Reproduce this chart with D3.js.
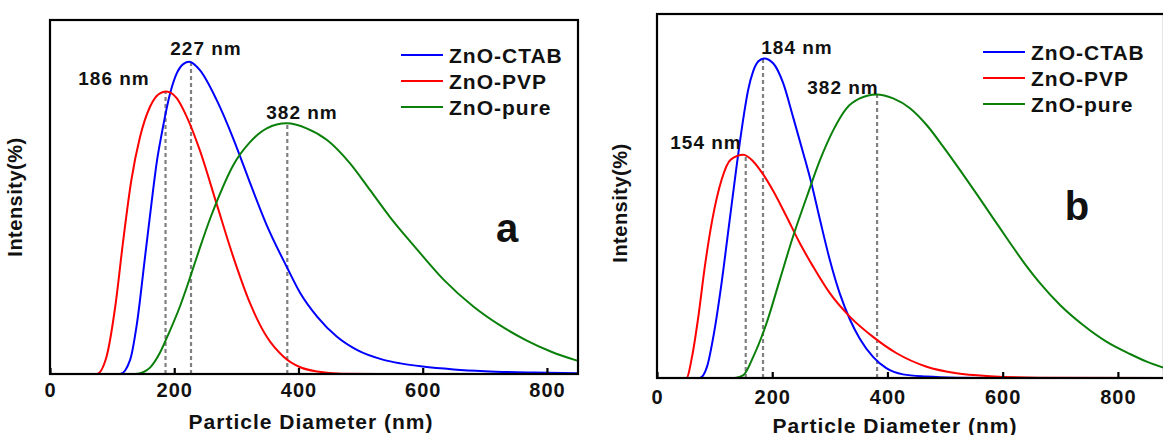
<!DOCTYPE html>
<html>
<head>
<meta charset="utf-8">
<script src="https://cdn.jsdelivr.net/npm/d3@7"></script>
<style>
  body { margin: 0; background: #fff; }
  svg { display: block; }
  text { font-family: Arial, "Liberation Sans", sans-serif; font-weight: bold; fill: #111; }
</style>
</head>
<body>
<div id="chart"></div>
<script>
// series names / colours
const names = ["ZnO-CTAB", "ZnO-PVP", "ZnO-pure"];
const colors = ["#0000ff", "#ff0000", "#0a800a"];
const xTicks = [0, 200, 400, 600, 800];

// panel a: [diameter nm, relative intensity]
const aCtab = [[0,0],[113,0],[129,0.04],[140,0.143],[153,0.331],[166,0.52],[172,0.60],[180,0.68],[193,0.79],[204,0.849],[215,0.876],[224,0.882],[241,0.859],[268,0.775],[295,0.665],[306,0.615],[322,0.54],[349,0.42],[381,0.303],[403,0.228],[430,0.162],[462,0.105],[494,0.068],[537,0.040],[564,0.030],[600,0.021],[650,0.013],[700,0.008],[780,0.004],[850,0.002]];
const aPvp = [[0,0],[75,0],[91,0.049],[105,0.19],[118,0.379],[131,0.548],[145,0.67],[161,0.755],[177,0.793],[187,0.798],[204,0.779],[220,0.727],[241,0.633],[268,0.482],[295,0.331],[322,0.20],[349,0.105],[376,0.049],[403,0.019],[430,0.007],[470,0.001],[550,0],[850,0]];
const aPure = [[0,0],[138,0],[150,0.005],[161,0.018],[177,0.06],[190,0.11],[209,0.19],[225,0.27],[241,0.355],[258,0.44],[268,0.485],[295,0.59],[322,0.655],[349,0.694],[381,0.708],[413,0.694],[446,0.661],[483,0.595],[515,0.52],[547,0.444],[564,0.407],[587,0.36],[634,0.266],[682,0.19],[724,0.138],[766,0.096],[807,0.063],[850,0.037]];
const aPeaks = [227, 186, 382];
const aPeakLabels = ["227 nm", "186 nm", "382 nm"];

// panel b
const bCtab = [[0,0],[74,0],[87,0.032],[99,0.124],[112,0.26],[125,0.42],[138,0.58],[144,0.65],[151,0.725],[158,0.79],[167,0.843],[176,0.87],[186,0.878],[202,0.864],[219,0.81],[236,0.718],[254,0.617],[268,0.535],[283,0.434],[300,0.324],[317,0.233],[335,0.16],[352,0.108],[375,0.058],[398,0.027],[427,0.010],[468,0.004],[520,0.001],[600,0],[880,0]];
const bPvp = [[0,0],[51,0],[61,0.06],[71,0.16],[83,0.306],[96,0.435],[112,0.544],[128,0.60],[150,0.613],[167,0.595],[184,0.56],[202,0.513],[225,0.443],[248,0.37],[271,0.306],[300,0.233],[335,0.168],[375,0.113],[416,0.068],[468,0.031],[520,0.013],[578,0.005],[664,0.001],[880,0]];
const bPure = [[0,0],[135,0],[150,0.008],[167,0.058],[190,0.15],[213,0.269],[236,0.388],[260,0.498],[283,0.599],[306,0.681],[329,0.741],[352,0.768],[381,0.779],[410,0.768],[439,0.741],[468,0.695],[497,0.635],[526,0.571],[555,0.505],[583,0.44],[612,0.373],[641,0.308],[664,0.262],[700,0.20],[740,0.145],[780,0.10],[821,0.066],[850,0.045],[880,0.028]];
const bPeaks = [184, 154, 382];
const bPeakLabels = ["184 nm", "154 nm", "382 nm"];

const svg = d3.select("#chart").append("svg")
    .attr("width", 1163)
    .attr("height", 435);

function drawPanel(p) {
    let x = d3.scaleLinear().domain([0, p.xMax]).range([p.left, p.right]);
    let y = d3.scaleLinear().domain([0, 1]).range([p.bottom, p.top]);
    let g = svg.append("g");

    // dotted peak markers
    p.peaks.forEach(function(pk, i) {
        let pts = p.series[i];
        let peakY = d3.max(pts, d => d[1]);
        g.append("line")
            .attr("x1", x(pk)).attr("x2", x(pk))
            .attr("y1", y(0)).attr("y2", y(peakY))
            .attr("stroke", "#808080")
            .attr("stroke-width", 2.2)
            .attr("stroke-dasharray", "4,3");
    });

    let line = d3.line()
        .x(d => x(d[0]))
        .y(d => y(d[1]))
        .curve(d3.curveMonotoneX);

    p.series.forEach(function(pts, i) {
        g.append("path")
            .datum(pts)
            .attr("fill", "none")
            .attr("stroke", colors[i])
            .attr("stroke-width", 2)
            .attr("d", line);
    });

    // frame
    g.append("rect")
        .attr("x", p.left).attr("y", p.top)
        .attr("width", p.right - p.left).attr("height", p.bottom - p.top)
        .attr("fill", "none").attr("stroke", "#000").attr("stroke-width", 2.2);

    // x axis with inward ticks
    let ax = g.append("g")
        .attr("transform", "translate(0," + p.bottom + ")")
        .call(d3.axisBottom(x).tickValues(xTicks).tickSizeInner(-6).tickSizeOuter(0).tickPadding(p.tickPad));
    ax.select(".domain").remove();
    ax.selectAll(".tick line").attr("stroke", "#000").attr("stroke-width", 2.2);
    ax.selectAll(".tick text")
        .style("font-size", "20px")
        .style("letter-spacing", "1px")
        .attr("fill", "#111");

    g.append("text")
        .attr("x", p.titleX).attr("y", p.bottom + p.titleOff)
        .attr("text-anchor", "middle")
        .style("font-size", "21px")
        .style("letter-spacing", "1px")
        .text("Particle Diameter (nm)");

    g.append("text")
        .attr("transform", "translate(" + p.yTitleX + "," + p.yTitleY + ") rotate(-90)")
        .attr("text-anchor", "middle")
        .style("font-size", "20px")
        .style("letter-spacing", "0.5px")
        .text("Intensity(%)");

    // peak labels
    p.labelPos.forEach(function(lp, i) {
        g.append("text")
            .attr("x", lp[0]).attr("y", lp[1])
            .attr("text-anchor", "middle")
            .attr("dominant-baseline", "central")
            .style("font-size", "19px")
            .style("letter-spacing", "1px")
            .text(p.labels[i]);
    });

    // legend
    names.forEach(function(n, i) {
        let ly = p.legendY + i * 26;
        g.append("line")
            .attr("x1", p.legendX).attr("x2", p.legendX + 42)
            .attr("y1", ly).attr("y2", ly)
            .attr("stroke", colors[i]).attr("stroke-width", 2);
        g.append("text")
            .attr("x", p.legendX + 48).attr("y", ly)
            .attr("dominant-baseline", "central")
            .style("font-size", "21px")
            .style("letter-spacing", "1px")
            .text(n);
    });

    g.append("text")
        .attr("x", p.tagX).attr("y", p.tagY)
        .attr("text-anchor", "middle")
        .attr("dominant-baseline", "central")
        .style("font-size", "40px")
        .text(p.tag);
}

drawPanel({
    left: 50, right: 578, top: 20, bottom: 374, xMax: 850,
    series: [aCtab, aPvp, aPure], peaks: aPeaks, labels: aPeakLabels,
    labelPos: [[206, 48], [114, 78], [302, 112]],
    legendX: 401, legendY: 55, tag: "a", tagX: 507, tagY: 228,
    titleX: 311, titleOff: 55, tickPad: 9, yTitleX: 22, yTitleY: 197
});

drawPanel({
    left: 657, right: 1164, top: 14, bottom: 378, xMax: 880,
    series: [bCtab, bPvp, bPure], peaks: bPeaks, labels: bPeakLabels,
    labelPos: [[797, 47], [706, 142], [843, 87]],
    legendX: 983, legendY: 52, tag: "b", tagX: 1077, tagY: 206,
    titleX: 895, titleOff: 55, tickPad: 12, yTitleX: 627, yTitleY: 203
});
</script>
</body>
</html>
